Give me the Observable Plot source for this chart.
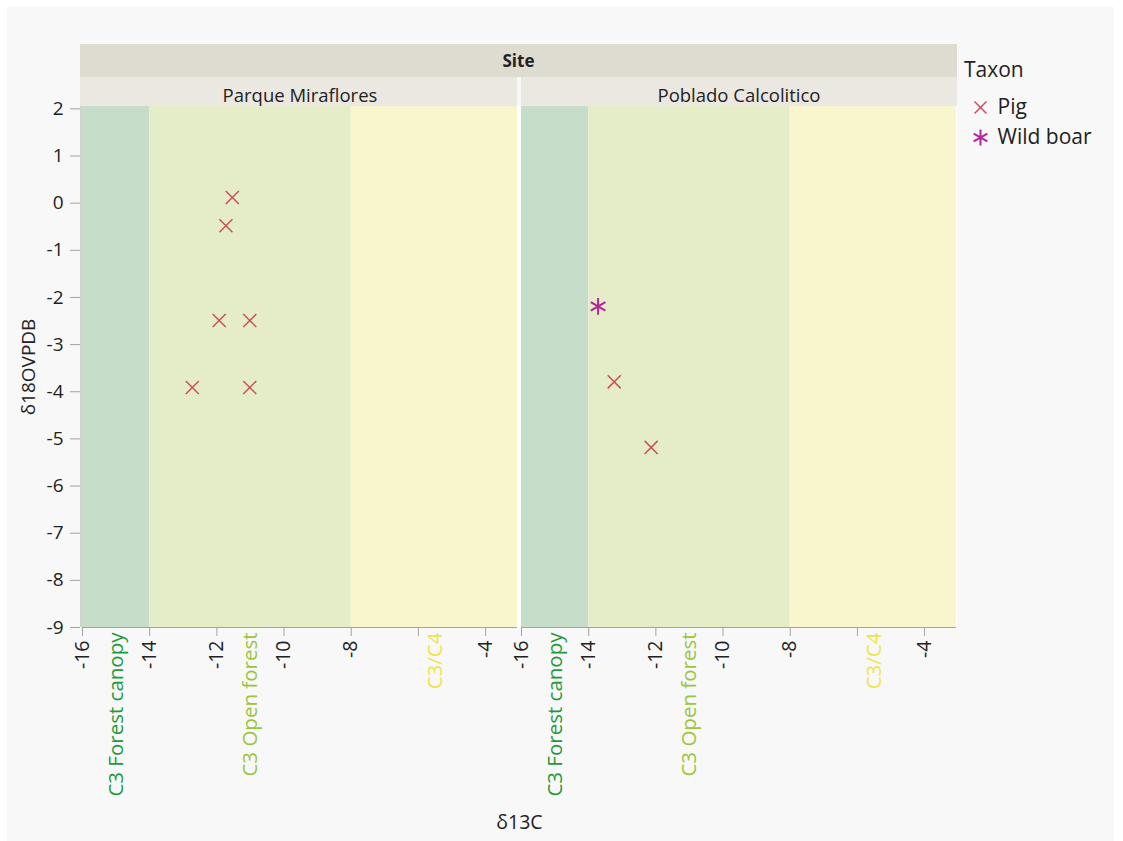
<!DOCTYPE html>
<html><head><meta charset="utf-8">
<script src="https://cdn.jsdelivr.net/npm/d3@7"></script>
<script src="https://cdn.jsdelivr.net/npm/@observablehq/plot@0.6"></script>
<style>
body{margin:0;background:#fff;font-family:"Open Sans",sans-serif;color:#222;}
#wrap{position:relative;width:1123px;height:841px;overflow:hidden;}
#bg{position:absolute;left:7px;top:7px;width:1107px;height:834px;background:#f8f8f8;}
.box{position:absolute;box-sizing:border-box;}
#site{left:80px;top:44px;width:877px;height:33px;background:#dedbd0;font-weight:bold;font-size:17px;text-align:center;line-height:33px;}
.fh{top:77px;height:29px;background:#ebe8e1;}
#panelbg{left:80px;top:106px;width:877px;height:521px;background:#fff;}
#taxonTitle{left:964px;top:55px;font-size:21px;}
#chart{position:absolute;left:0;top:0;}
#legend{position:absolute;left:968px;top:92px;}
</style></head>
<body><div id="wrap">
<div id="bg"></div>
<div class="box" id="site">Site</div>
<div class="box fh" style="left:80px;width:437px"></div>
<div class="box fh" style="left:521px;width:436px"></div>
<div class="box" id="panelbg"></div>
<div class="box" id="taxonTitle">Taxon</div>
<div id="chart"></div>
<div id="legend"></div>
</div>
<script>
// ---- data ----
const sites = ["Parque Miraflores", "Poblado Calcolitico"];
const taxa = ["Pig", "Wild boar"];
const taxonColors = ["#c9505f", "#b3249d"];
const taxonSymbols = ["times", "asterisk"];

const pointSite = ["Parque Miraflores","Parque Miraflores","Parque Miraflores","Parque Miraflores","Parque Miraflores","Parque Miraflores","Poblado Calcolitico","Poblado Calcolitico","Poblado Calcolitico"];
const pointTaxon = ["Pig","Pig","Pig","Pig","Pig","Pig","Wild boar","Pig","Pig"];
const d13C = [-11.54, -11.73, -11.93, -11.02, -12.73, -11.02, -13.72, -13.24, -12.14];
const d18O = [0.12, -0.48, -2.49, -2.49, -3.91, -3.91, -2.19, -3.79, -5.18];

const bandNames = ["C3 Forest canopy", "C3 Open forest", "C3/C4"];
const bandStart = [-16, -14, -8];
const bandEnd = [-14, -8, -3];
const bandFill = ["#c6ddc9", "#e4edc7", "#f9f6cd"];
const bandTextColor = ["#1f9a3c", "#9cc43c", "#eee44a"];

const xDomain = [-16, -3.05];
const yDomain = [-9, 2.05];
const xTicks = [-16, -14, -12, -10, -8, -6, -4];
const xTickLabels = ["-16", "-14", "-12", "-10", "-8", "", "-4"];
const yTicks = [-9, -8, -7, -6, -5, -4, -3, -2, -1, 0, 1, 2];
const yTickLabels = ["-9", "-8", "-7", "-6", "-5", "-4", "-3", "-2", "-1", "0", "1", "2"];

// ---- build ----
const points = d13C.map((x, i) => ({site: pointSite[i], taxon: pointTaxon[i], x, y: d18O[i]}));
const bands = bandNames.map((name, i) => ({name, x1: bandStart[i], x2: bandEnd[i], mid: (bandStart[i] + bandEnd[i]) / 2, fill: bandFill[i], color: bandTextColor[i]}));
const axisGray = "#a3a3a3";
const symR = {"Pig": 6, "Wild boar": 8};
const symW = {"Pig": 1.5, "Wild boar": 2};

const chart = Plot.plot({
  width: 1123, height: 841,
  marginLeft: 82, marginRight: 166, marginTop: 106, marginBottom: 214,
  style: {background: "transparent", fontFamily: "Open Sans", color: "#222", overflow: "visible"},
  fx: {domain: sites, padding: 0.0091, label: null},
  x: {domain: xDomain},
  y: {domain: yDomain},
  color: {domain: taxa, range: taxonColors},
  symbol: {domain: taxa, range: taxonSymbols},
  marks: [
    ...bands.map(b => Plot.rect([b], {x1: "x1", x2: "x2", fill: b.fill, clip: true})),
    ...bands.map(b => Plot.text([b], {x: "mid", y: () => yDomain[0], text: "name", rotate: -90, textAnchor: "end", dy: 5, fill: b.color, fontSize: 20.5})),
    Plot.ruleY([yDomain[0]], {stroke: axisGray}),
    Plot.ruleX([sites[0]], {fx: d => d, x: () => xDomain[0], dx: -1.5, stroke: axisGray}),
    Plot.axisFx({anchor: "top", tickSize: 0, tickPadding: 5, fontSize: 18.5, label: null}),
    Plot.axisX({ticks: xTicks, tickFormat: d => xTickLabels[xTicks.indexOf(d)], tickRotate: -90, tickSize: 9, tickPadding: 4, stroke: axisGray, fontSize: 19.5, label: "δ13C", labelAnchor: "center", labelOffset: 201, labelArrow: "none"}),
    Plot.axisY({ticks: yTicks, tickFormat: d => yTickLabels[yTicks.indexOf(d)], tickSize: 10, tickPadding: 7, dx: -2, stroke: axisGray, fontSize: 19, label: "δ18OVPDB", labelAnchor: "center", labelOffset: 61, labelArrow: "none"}),
    ...taxa.map(t => Plot.dot(points, {filter: d => d.taxon === t, fx: "site", x: "x", y: "y", symbol: "taxon", stroke: "taxon", r: symR[t], strokeWidth: symW[t]}))
  ]
});
document.getElementById("chart").append(chart);

const legend = Plot.plot({
  width: 150, height: 60, margin: 0,
  style: {background: "transparent", fontFamily: "Open Sans", color: "#222", overflow: "visible"},
  y: {type: "band", domain: taxa, padding: 0, axis: null},
  color: {domain: taxa, range: taxonColors},
  symbol: {domain: taxa, range: taxonSymbols},
  marks: [
    ...taxa.map(t => Plot.dot([t], {y: d => d, frameAnchor: "left", dx: 12, symbol: d => d, stroke: d => d, r: symR[t] - 0.5, strokeWidth: symW[t]})),
    Plot.text(taxa, {y: d => d, text: d => d, frameAnchor: "left", dx: 29, textAnchor: "start", fontSize: 21, fill: "#222"})
  ]
});
document.getElementById("legend").append(legend);
</script>
</body></html>
